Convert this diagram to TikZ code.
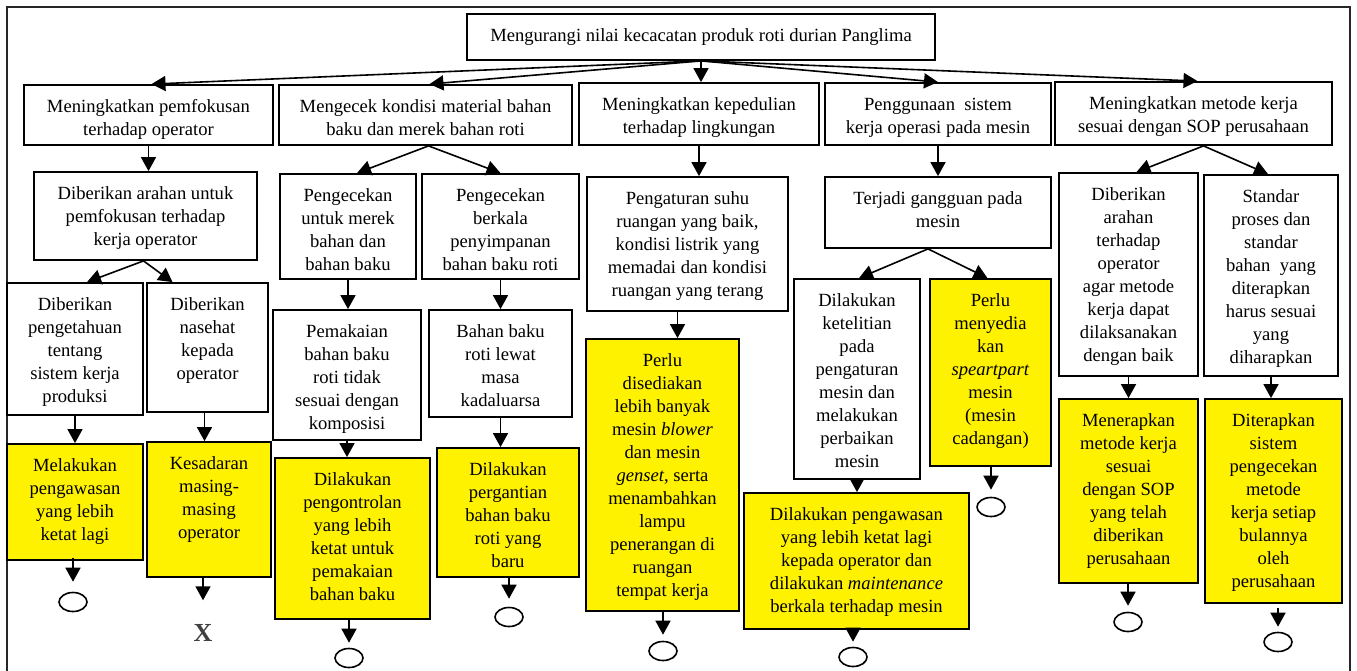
\documentclass[tikz,border=0pt]{standalone}
\usepackage{fontspec}
\setmainfont{Liberation Serif}
\usetikzlibrary{arrows.meta,calc,shapes.geometric}
\newcommand\mkbox[7]{%
  \node[#6, minimum width={(#4)-(#2)}, minimum height={(#5)-(#3)}] (#1) at ({((#2)+(#4))/2},{((#3)+(#5))/2}) {};
  \node[txt, anchor=north] (#1t) at ([yshift=-12pt]#1.north) {\strut #7};
}
\begin{document}
\begin{tikzpicture}[x=1pt,y=-1pt,
  box/.style={draw, rectangle, line width=1.8pt, inner sep=0pt},
  ybox/.style={box, fill=yellow},
  txt/.style={inner sep=0pt, align=center, font=\fontsize{18.6}{23}\selectfont},
  arr/.style={line width=1.6pt, -{Triangle[length=14pt,width=15pt]}},
  endell/.style={draw, ellipse, line width=1.6pt, minimum width=28pt, minimum height=19pt, inner sep=0pt},
  mark x/.style={inner sep=0pt, text=black!75, font=\fontsize{26}{26}\selectfont\bfseries}
]
\useasboundingbox (0,0) rectangle (1357,671);
\draw[line width=1.5pt, black!85] (7,675) -- (7,7) -- (1350,7) -- (1350,675);

% level 0
\mkbox{top}{467}{14}{935}{60}{box}{Mengurangi nilai kecacatan produk roti durian Panglima}
% level 1
\mkbox{a1}{24}{85}{273}{145}{box}{Meningkatkan pemfokusan\\terhadap operator}
\mkbox{a2}{279}{85}{572}{145}{box}{Mengecek kondisi material bahan\\baku dan merek bahan roti}
\mkbox{a3}{579}{83}{819}{145}{box}{Meningkatkan kepedulian\\terhadap lingkungan}
\mkbox{a4}{825}{83}{1051}{145}{box}{Penggunaan\ \ sistem\\kerja operasi pada mesin}
\mkbox{a5}{1055}{82}{1332}{145}{box}{Meningkatkan metode kerja\\sesuai dengan SOP perusahaan}
% level 2
\mkbox{b1}{34}{172}{257}{260}{box}{Diberikan arahan untuk\\pemfokusan terhadap\\kerja operator}
\mkbox{b2}{280}{174}{416}{279}{box}{Pengecekan\\untuk merek\\bahan dan\\bahan baku}
\mkbox{b3}{422}{174}{579}{279}{box}{Pengecekan\\berkala\\penyimpanan\\bahan baku roti}
\mkbox{b4}{587}{177}{788}{311}{box}{Pengaturan suhu\\ruangan yang baik,\\kondisi listrik yang\\memadai dan kondisi\\ruangan yang terang}
\mkbox{b5}{825}{177}{1051}{248}{box}{Terjadi gangguan pada\\mesin}
\mkbox{b6}{1059}{173}{1198}{376}{box}{Diberikan\\arahan\\terhadap\\operator\\agar metode\\kerja dapat\\dilaksanakan\\dengan baik}
\mkbox{b7}{1204}{175}{1338}{376}{box}{Standar\\proses dan\\standar\\bahan\ \ yang\\diterapkan\\harus sesuai\\yang\\diharapkan}
% level 3
\mkbox{c1}{7}{283}{143}{415}{box}{Diberikan\\pengetahuan\\tentang\\sistem kerja\\produksi}
\mkbox{c2}{147}{283}{268}{412}{box}{Diberikan\\nasehat\\kepada\\operator}
\mkbox{c3}{273}{310}{421}{440}{box}{Pemakaian\\bahan baku\\roti tidak\\sesuai dengan\\komposisi}
\mkbox{c4}{429}{310}{572}{417}{box}{Bahan baku\\roti lewat\\masa\\kadaluarsa}
\mkbox{c5}{586}{339}{739}{611}{ybox}{Perlu\\disediakan\\lebih banyak\\mesin \textit{blower}\\dan mesin\\\textit{genset}, serta\\menambahkan\\lampu\\penerangan di\\ruangan\\tempat kerja}
\mkbox{c6}{794}{279}{920}{479}{box}{Dilakukan\\ketelitian\\pada\\pengaturan\\mesin dan\\melakukan\\perbaikan\\mesin}
\mkbox{c7}{930}{279}{1051}{466}{ybox}{Perlu\\menyedia\\kan\\\textit{speartpart}\\mesin\\(mesin\\cadangan)}
% level 4
\mkbox{d1}{7}{444}{143}{560}{ybox}{Melakukan\\pengawasan\\yang lebih\\ketat lagi}
\mkbox{d2}{147}{442}{271}{577}{ybox}{Kesadaran\\masing-\\masing\\operator}
\mkbox{d3}{275}{458}{430}{619}{ybox}{Dilakukan\\pengontrolan\\yang lebih\\ketat untuk\\pemakaian\\bahan baku}
\mkbox{d4}{437}{448}{579}{577}{ybox}{Dilakukan\\pergantian\\bahan baku\\roti yang\\baru}
\mkbox{d5}{744}{493}{969}{629}{ybox}{Dilakukan pengawasan\\yang lebih ketat lagi\\kepada operator dan\\dilakukan \textit{maintenance}\\berkala terhadap mesin}
\mkbox{d6}{1059}{399}{1198}{583}{ybox}{Menerapkan\\metode kerja\\sesuai\\dengan SOP\\yang telah\\diberikan\\perusahaan}
\mkbox{d7}{1205}{399}{1342}{603}{ybox}{Diterapkan\\sistem\\pengecekan\\metode\\kerja setiap\\bulannya\\oleh\\perusahaan}

% end markers
\node[endell] (e1) at (73,602) {};
\node[mark x] (xk) at (203,633) {X};
\node[endell] (e3) at (349,658) {};
\node[endell] (e4) at (509,617) {};
\node[endell] (e5) at (663,651) {};
\node[endell] (e6) at (853,657) {};
\node[endell] (e7) at (991,507) {};
\node[endell] (e8) at (1128,622) {};
\node[endell] (e9) at (1278,642) {};

% connectors from top
\draw[arr] (top.south) -- ($(a1.north)+(3,0)$);
\draw[arr] (top.south) -- ($(a2.north)+(4,0)$);
\draw[arr] (top.south) -- (a3.north -| top.south);
\draw[arr] (top.south) -- (a4.north);
\draw[arr] (top.south) -- ($(a5.north)+(4,0)$);
% level 1 -> 2
\draw[arr] (a1.south) -- (a1.south |- b1.north);
\draw[arr] ($(a2.south)+(3,0)$) -- ($(b2.north)+(9,0)$);
\draw[arr] ($(a2.south)+(3,0)$) -- (b3.north);
\draw[arr] (a3.south) -- (a3.south |- b4.north);
\draw[arr] (b5.north |- a4.south) -- (b5.north);
\draw[arr] ($(a5.south)+(10,0)$) -- ($(b6.north)+(8,0)$);
\draw[arr] ($(a5.south)+(10,0)$) -- ($(b7.north)+(-3,0)$);
% level 2 -> 3
\draw[arr] ($(b1.south)+(-2,0)$) -- ($(c1.north)+(12,0)$);
\draw[arr] ($(b1.south)+(-2,0)$) -- ($(c2.north)+(-35,0)$);
\draw[arr] (b2.south) -- (b2.south |- c3.north);
\draw[arr] (b3.south) -- (b3.south |- c4.north);
\draw[arr] ($(b4.south)+(-10,0)$) -- ($(b4.south |- c5.north)+(-10,0)$);
\draw[arr] ($(b5.south)+(-10,0)$) -- ($(c6.north)+(2,0)$);
\draw[arr] ($(b5.south)+(-10,0)$) -- ($(c7.north)+(-3,0)$);
\draw[arr] (b6.south) -- (b6.south |- d6.north);
\draw[arr] (b7.south) -- (b7.south |- d7.north);
% level 3 -> 4
\draw[arr] (c1.south) -- (c1.south |- d1.north);
\draw[arr] ($(c2.south)+(-3,0)$) -- ($(c2.south |- d2.north)+(-3,0)$);
\draw[arr] (c3.south) -- (c3.south |- d3.north);
\draw[arr] (c4.south) -- (c4.south |- d4.north);
\draw[arr] (c6.south) -- (c6.south |- d5.north);
% to end markers
\draw[arr] ([yshift=3pt]e1.north |- d1.south) -- ([yshift=10pt]e1.north);
\draw[arr] (xk.north |- d2.south) -- ([yshift=24pt]xk.north);
\draw[arr] (e3.north |- d3.south) -- ([yshift=5pt]e3.north);
\draw[arr] (e4.north |- d4.south) -- ([yshift=8pt]e4.north);
\draw[arr] (e5.north |- c5.south) -- ([yshift=6pt]e5.north);
\draw[arr] (e6.north |- d5.south) -- ([yshift=5pt]e6.north);
\draw[arr] (e7.north |- c7.south) -- ([yshift=7pt]e7.north);
\draw[arr] (e8.north |- d6.south) -- ([yshift=6pt]e8.north);
\draw[arr] ([yshift=-4pt]e9.north |- d7.south) -- ([yshift=5pt]e9.north);
\end{tikzpicture}
\end{document}
